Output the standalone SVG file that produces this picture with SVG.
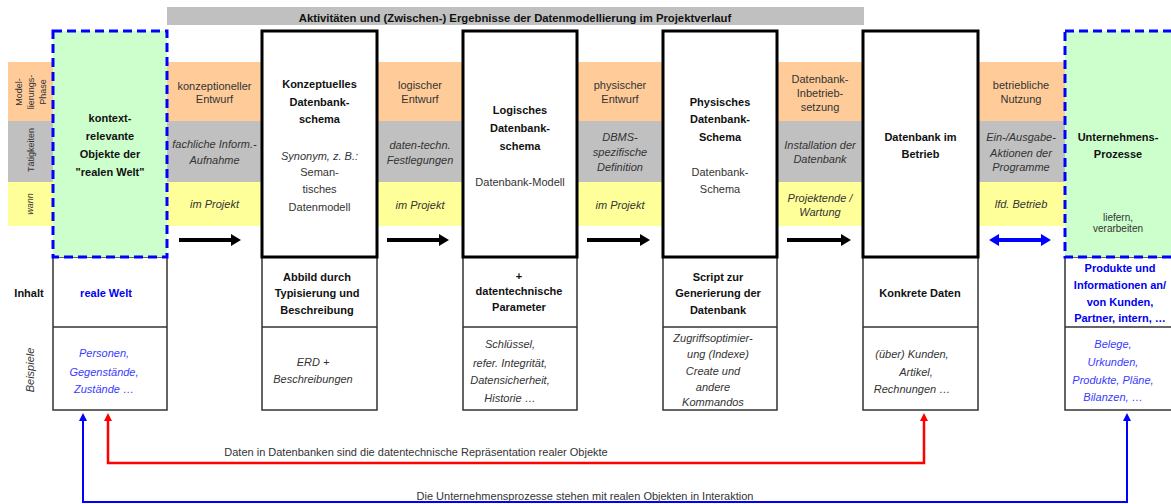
<svg xmlns="http://www.w3.org/2000/svg" width="1171" height="504" viewBox="0 0 1171 504">
  <style>
    text { font-family: "Liberation Sans", Arial, sans-serif; font-size: 11px; fill: #333; text-anchor: middle; }
    .b { font-weight: bold; fill: #111; }
    .i { font-style: italic; }
    .sm { font-size: 9px; }
    .s10 { font-size: 10px; }
    .blue { fill: #0000ee; }
    .lblue { fill: #3a3aff; }
    .hdr { fill: #fff; stroke: #000; stroke-width: 3; }
    .low { fill: #fff; stroke: #333; stroke-width: 1.5; }
    .ctx { fill: #ccffcc; stroke: #0000ff; stroke-width: 3; stroke-dasharray: 9 5; }
    .div { stroke: #333; stroke-width: 1.5; }
    .flow { stroke: #000; stroke-width: 4; fill: none; }
  </style>
  <defs>
    <marker id="headK" viewBox="0 0 10 12" refX="0" refY="6" markerWidth="10" markerHeight="12" markerUnits="userSpaceOnUse" orient="auto-start-reverse">
      <path d="M0,0 L10,6 L0,12 z" fill="#000"/>
    </marker>
    <marker id="headB" viewBox="0 0 10 12" refX="0" refY="6" markerWidth="10" markerHeight="12" markerUnits="userSpaceOnUse" orient="auto-start-reverse">
      <path d="M0,0 L10,6 L0,12 z" fill="#0000ff"/>
    </marker>
    <marker id="headR" viewBox="0 0 8 8" refX="0" refY="4" markerWidth="8" markerHeight="8" markerUnits="userSpaceOnUse" orient="auto-start-reverse">
      <path d="M0,0 L8,4 L0,8 z" fill="#ff0000"/>
    </marker>
    <marker id="headB2" viewBox="0 0 8 8" refX="0" refY="4" markerWidth="8" markerHeight="8" markerUnits="userSpaceOnUse" orient="auto-start-reverse">
      <path d="M0,0 L8,4 L0,8 z" fill="#0000ff"/>
    </marker>
  </defs>

  <!-- heading bar -->
  <g id="title">
    <rect x="167" y="7" width="697" height="18" fill="#c0c0c0"/>
    <text x="515" y="22" class="b" style="font-size:11.3px">Aktivitäten und (Zwischen-) Ergebnisse der Datenmodellierung im Projektverlauf</text>
  </g>

  <!-- phase / activity / timing bands -->
  <g id="bands">
    <rect x="8" y="62" width="1057" height="59" fill="#ffcc99"/>
    <rect x="8" y="121" width="1057" height="61" fill="#c0c0c0"/>
    <rect x="8" y="182" width="1057" height="44" fill="#ffff99"/>
  </g>

  <!-- row labels -->
  <g id="row-labels">
    <text class="sm" transform="translate(21.5,92) rotate(-90)">Model-</text>
    <text class="sm" transform="translate(33.5,92) rotate(-90)">lierungs-</text>
    <text class="sm" transform="translate(46,92) rotate(-90)">Phase</text>
    <text class="sm" transform="translate(33.5,150) rotate(-90)">Tätigkeiten</text>
    <text class="sm i" transform="translate(33,204) rotate(-90)">wann</text>
    <text class="b" x="29" y="297">Inhalt</text>
    <text class="i" transform="translate(34,370) rotate(-90)">Beispiele</text>
  </g>

  <!-- transitions between the stages -->
  <g id="band-texts">
    <text x="214.5" y="90">konzeptioneller</text>
    <text x="214.5" y="103">Entwurf</text>
    <text class="i" x="214.5" y="148">fachliche Inform.-</text>
    <text class="i" x="214.5" y="164">Aufnahme</text>
    <text class="i" x="214.5" y="208">im Projekt</text>

    <text x="420" y="89">logischer</text>
    <text x="420" y="103">Entwurf</text>
    <text class="i" x="420" y="149">daten-techn.</text>
    <text class="i" x="420" y="164">Festlegungen</text>
    <text class="i" x="420" y="209">im Projekt</text>

    <text x="620" y="89">physischer</text>
    <text x="620" y="103">Entwurf</text>
    <text class="i" x="620" y="141">DBMS-</text>
    <text class="i" x="620" y="156">spezifische</text>
    <text class="i" x="620" y="171">Definition</text>
    <text class="i" x="620" y="209">im Projekt</text>

    <text x="820" y="83">Datenbank-</text>
    <text x="820" y="97">Inbetrieb-</text>
    <text x="820" y="111">setzung</text>
    <text class="i" x="820" y="149">Installation der</text>
    <text class="i" x="820" y="163">Datenbank</text>
    <text class="i" x="820" y="202">Projektende /</text>
    <text class="i" x="820" y="216">Wartung</text>

    <text x="1021" y="89">betriebliche</text>
    <text x="1021" y="103">Nutzung</text>
    <text class="i" x="1021" y="141">Ein-/Ausgabe-</text>
    <text class="i" x="1021" y="157">Aktionen der</text>
    <text class="i" x="1021" y="171">Programme</text>
    <text class="i" x="1021" y="208">lfd. Betrieb</text>
  </g>

  <!-- real-world context -->
  <g id="node-realwelt">
    <rect class="low" x="53" y="257" width="114" height="153"/>
    <line class="div" x1="53" y1="327" x2="167" y2="327"/>
    <rect class="ctx" x="53" y="31" width="114" height="226"/>
    <text class="b" x="110" y="122">kontext-</text>
    <text class="b" x="110" y="140">relevante</text>
    <text class="b" x="110" y="158">Objekte der</text>
    <text class="b" x="110" y="176">"realen Welt"</text>
    <text class="b blue" x="106" y="297">reale Welt</text>
    <text class="i lblue" x="104" y="357">Personen,</text>
    <text class="i lblue" x="104" y="376">Gegenstände,</text>
    <text class="i lblue" x="104" y="393">Zustände …</text>
  </g>

  <g id="node-konzeptuell">
    <rect class="low" x="262" y="257" width="115" height="153"/>
    <line class="div" x1="262" y1="327" x2="377" y2="327"/>
    <rect class="hdr" x="262" y="31" width="115" height="226"/>
    <text class="b" x="319.5" y="88">Konzeptuelles</text>
    <text class="b" x="319.5" y="106">Datenbank-</text>
    <text class="b" x="319.5" y="123">schema</text>
    <text class="i" x="319.5" y="160">Synonym, z. B.:</text>
    <text x="319.5" y="176">Seman-</text>
    <text x="319.5" y="193">tisches</text>
    <text x="319.5" y="211">Datenmodell</text>
    <text class="b" x="317" y="281">Abbild durch</text>
    <text class="b" x="317" y="297">Typisierung und</text>
    <text class="b" x="317" y="314">Beschreibung</text>
    <text class="i" x="313" y="366">ERD +</text>
    <text class="i" x="313" y="383">Beschreibungen</text>
  </g>

  <g id="node-logisch">
    <rect class="low" x="463" y="257" width="114" height="153"/>
    <line class="div" x1="463" y1="327" x2="577" y2="327"/>
    <rect class="hdr" x="463" y="31" width="114" height="226"/>
    <text class="b" x="520" y="114">Logisches</text>
    <text class="b" x="520" y="132">Datenbank-</text>
    <text class="b" x="520" y="150">schema</text>
    <text x="520" y="186">Datenbank-Modell</text>
    <text class="b" x="519" y="280">+</text>
    <text class="b" x="519" y="295">datentechnische</text>
    <text class="b" x="519" y="311">Parameter</text>
    <text class="i" x="510" y="348">Schlüssel,</text>
    <text class="i" x="510" y="367">refer. Integrität,</text>
    <text class="i" x="510" y="384">Datensicherheit,</text>
    <text class="i" x="510" y="402">Historie …</text>
  </g>

  <g id="node-physisch">
    <rect class="low" x="663" y="257" width="114" height="153"/>
    <line class="div" x1="663" y1="327" x2="777" y2="327"/>
    <rect class="hdr" x="663" y="31" width="114" height="226"/>
    <text class="b" x="720" y="106">Physisches</text>
    <text class="b" x="720" y="123">Datenbank-</text>
    <text class="b" x="720" y="141">Schema</text>
    <text x="720" y="176">Datenbank-</text>
    <text x="720" y="193">Schema</text>
    <text class="b" x="718" y="281">Script zur</text>
    <text class="b" x="718" y="297">Generierung der</text>
    <text class="b" x="718" y="314">Datenbank</text>
    <text class="i" x="713" y="342">Zugriffsoptimier-</text>
    <text class="i" x="718" y="358">ung (Indexe)</text>
    <text class="i" x="713" y="375">Create und</text>
    <text class="i" x="713" y="391">andere</text>
    <text class="i" x="713" y="406">Kommandos</text>
  </g>

  <g id="node-betrieb">
    <rect class="low" x="863" y="257" width="115" height="153"/>
    <line class="div" x1="863" y1="327" x2="978" y2="327"/>
    <rect class="hdr" x="863" y="31" width="115" height="226"/>
    <text class="b" x="920.5" y="141">Datenbank im</text>
    <text class="b" x="920.5" y="158">Betrieb</text>
    <text class="b" x="920" y="297">Konkrete Daten</text>
    <text class="i" x="912" y="358">(über) Kunden,</text>
    <text class="i" x="916" y="376">Artikel,</text>
    <text class="i" x="912" y="393">Rechnungen …</text>
  </g>

  <g id="node-prozesse">
    <rect class="low" x="1065" y="257" width="115" height="153"/>
    <line class="div" x1="1065" y1="327" x2="1180" y2="327"/>
    <rect class="ctx" x="1065" y="31" width="115" height="226"/>
    <text class="b" x="1118" y="141">Unternehmens-</text>
    <text class="b" x="1118" y="158">Prozesse</text>
    <text class="s10" x="1118" y="221">liefern,</text>
    <text class="s10" x="1118" y="232">verarbeiten</text>
    <text class="b blue" x="1120" y="272">Produkte und</text>
    <text class="b blue" x="1120" y="289">Informationen an/</text>
    <text class="b blue" x="1120" y="306">von Kunden,</text>
    <text class="b blue" x="1120" y="322">Partner, intern, …</text>
    <text class="i lblue" x="1113" y="348">Belege,</text>
    <text class="i lblue" x="1113" y="366">Urkunden,</text>
    <text class="i lblue" x="1113" y="384">Produkte, Pläne,</text>
    <text class="i lblue" x="1113" y="401">Bilanzen, …</text>
  </g>

  <!-- connectors -->
  <g id="connectors">
    <line class="flow" x1="179" y1="240" x2="231" y2="240" marker-end="url(#headK)"/>
    <line class="flow" x1="387" y1="240" x2="439" y2="240" marker-end="url(#headK)"/>
    <line class="flow" x1="587" y1="240" x2="640" y2="240" marker-end="url(#headK)"/>
    <line class="flow" x1="787" y1="240" x2="841" y2="240" marker-end="url(#headK)"/>
    <line x1="999" y1="240" x2="1041" y2="240" stroke="#0000ff" stroke-width="4" marker-start="url(#headB)" marker-end="url(#headB)"/>

    <path d="M108,421 V463 H924 V421" fill="none" stroke="#ff0000" stroke-width="2.5" marker-start="url(#headR)" marker-end="url(#headR)"/>
    <text x="416" y="456">Daten in Datenbanken sind die datentechnische Repräsentation realer Objekte</text>

    <path d="M83,421 V502 H1127 V421" fill="none" stroke="#0000ff" stroke-width="2" marker-start="url(#headB2)" marker-end="url(#headB2)"/>
    <text x="585" y="499.5">Die Unternehmensprozesse stehen mit realen Objekten in Interaktion</text>
  </g>
</svg>
